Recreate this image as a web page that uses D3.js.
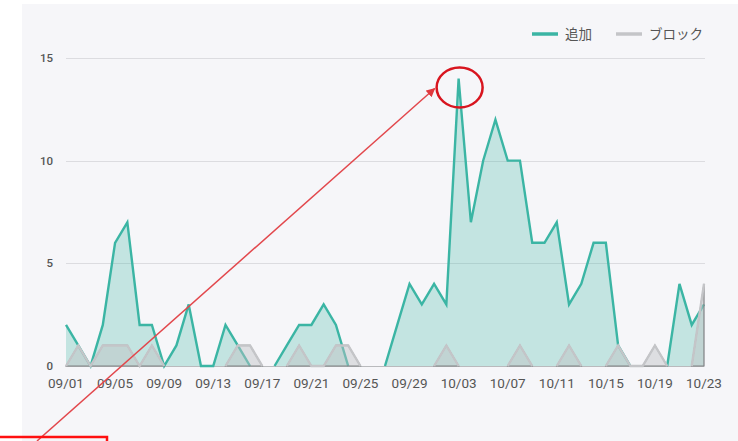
<!DOCTYPE html>
<html>
<head>
<meta charset="utf-8">
<script src="https://cdn.jsdelivr.net/npm/d3@7"></script>
<style>
	html, body { margin: 0; padding: 0; background: #ffffff; }
	svg { display: block; }
	text { font-family: Roboto, "Noto Sans CJK JP", sans-serif; }
</style>
</head>
<body>
<svg id="chart" width="738" height="441"></svg>
<script>
// data: one value per day, 09/01 .. 10/23
const startDay = new Date(2019, 8, 1);
const endDay   = new Date(2019, 9, 23);
const addValues = [
	2, 1, 0, 2, 6, 7, 2, 2, 0, 1,
	3, 0, 0, 2, 1, 0, 0, 0, 1, 2,
	2, 3, 2, 0, 0, 0, 0, 2, 4, 3,
	4, 3, 14, 7, 10, 12, 10, 10, 6, 6,
	7, 3, 4, 6, 6, 1, 0, 0, 0, 0,
	4, 2, 3
];
const blockValues = [
	0, 1, 0, 1, 1, 1, 0, 1, 0, 0,
	0, 0, 0, 0, 1, 1, 0, 0, 0, 1,
	0, 0, 1, 1, 0, 0, 0, 0, 0, 0,
	0, 1, 0, 0, 0, 0, 0, 1, 0, 0,
	0, 1, 0, 0, 0, 1, 0, 0, 1, 0,
	0, 0, 4
];
const yTicks = [0, 5, 10, 15];
const legendItems = ["追加", "ブロック"];

const days = d3.timeDay.range(startDay, d3.timeDay.offset(endDay, 1));
const xTicks = days.filter((d, i) => i % 4 === 0);

const width  = 738;
const height = 441;
const margin = { top: 58, right: 34, bottom: 75, left: 66 };

const colors = {
	add:       "#3bb5a4",
	addFill:   "rgba(59,181,164,0.27)",
	block:     "#c4c5c8",
	blockFill: "rgba(190,192,196,0.45)",
	blockBase: "#808184"
};

const svg = d3.select("#chart");

// panel background
svg.append("rect")
	.attr("x", 22).attr("y", 4)
	.attr("width", width - 22).attr("height", height - 4)
	.attr("fill", "#f6f6f9");

const x = d3.scaleTime()
	.domain([startDay, endDay])
	.range([margin.left, width - margin.right]);

const y = d3.scaleLinear()
	.domain([0, 15])
	.range([height - margin.bottom, margin.top]);

// grid lines + y labels
const grid = svg.append("g");
grid.selectAll("line")
	.data(yTicks.filter(t => t > 0))
	.join("line")
	.attr("x1", margin.left).attr("x2", width - margin.right + 1)
	.attr("y1", d => Math.round(y(d)) + 0.5).attr("y2", d => Math.round(y(d)) + 0.5)
	.attr("stroke", "#dcdce0");

grid.selectAll("text")
	.data(yTicks)
	.join("text")
	.attr("x", 53)
	.attr("y", d => y(d) + 4)
	.attr("text-anchor", "end")
	.attr("font-size", 11.5)
	.attr("font-weight", 500)
	.attr("fill", "#555")
	.text(d => d);

// baseline
svg.append("line")
	.attr("x1", margin.left).attr("x2", width - margin.right)
	.attr("y1", Math.round(y(0)) + 0.5).attr("y2", Math.round(y(0)) + 0.5)
	.attr("stroke", "#b9babd");

// segments touching a nonzero value are drawn, zero runs are left out
function nearNonZero(values) {
	return (d, i) => values[i] > 0 || values[i - 1] > 0 || values[i + 1] > 0;
}

function drawSeries(values, fill, stroke, baseStroke) {
	const defined = nearNonZero(values);
	const area = d3.area()
		.defined(defined)
		.x((d, i) => x(days[i]))
		.y0(y(0))
		.y1(d => y(d));
	const line = d3.line()
		.defined(defined)
		.x((d, i) => x(days[i]))
		.y(d => y(d));

	const g = svg.append("g");
	g.append("path")
		.attr("d", area(values))
		.attr("fill", fill)
		.attr("stroke", baseStroke || "none")
		.attr("stroke-width", 1.2);
	g.append("path")
		.attr("d", line(values))
		.attr("fill", "none")
		.attr("stroke", stroke)
		.attr("stroke-width", 2.4)
		.attr("stroke-linejoin", "miter");
}

drawSeries(addValues, colors.addFill, colors.add);
drawSeries(blockValues, colors.blockFill, colors.block, colors.blockBase);

// x labels
svg.append("g").selectAll("text")
	.data(xTicks)
	.join("text")
	.attr("x", d => x(d))
	.attr("y", y(0) + 22)
	.attr("text-anchor", "middle")
	.attr("font-size", 13.5)
	.attr("fill", "#555")
	.text(d3.timeFormat("%m/%d"));

// legend
const legend = svg.append("g");
const legendX = [532, 616];
const legendColors = [colors.add, colors.block];
legendItems.forEach((name, i) => {
	legend.append("line")
		.attr("x1", legendX[i]).attr("x2", legendX[i] + 26)
		.attr("y1", 34).attr("y2", 34)
		.attr("stroke", legendColors[i])
		.attr("stroke-width", 3.5);
	legend.append("text")
		.attr("x", legendX[i] + 33)
		.attr("y", 38.5)
		.attr("font-size", 13.5)
		.attr("font-family", "'Noto Sans CJK JP', sans-serif")
		.attr("fill", "#555")
		.text(name);
});

// annotation: arrow to peak, circle, box
const peakIdx = addValues.indexOf(d3.max(addValues));
const px = x(days[peakIdx]);
const py = y(addValues[peakIdx]) + 9;

const defs = svg.append("defs");
defs.append("marker")
	.attr("id", "arrowHead")
	.attr("viewBox", "0 0 10 10")
	.attr("refX", 9).attr("refY", 5)
	.attr("markerWidth", 9).attr("markerHeight", 9)
	.attr("markerUnits", "userSpaceOnUse")
	.attr("orient", "auto")
	.append("path")
	.attr("d", "M0,0 L10,5 L0,10 z")
	.attr("fill", "#e0393e");

svg.append("line")
	.attr("x1", 37).attr("y1", 441)
	.attr("x2", px - 24).attr("y2", py + 1)
	.attr("stroke", "#e2474c")
	.attr("stroke-width", 1.5)
	.attr("marker-end", "url(#arrowHead)");

svg.append("ellipse")
	.attr("cx", px + 1).attr("cy", py)
	.attr("rx", 23).attr("ry", 20)
	.attr("fill", "none")
	.attr("stroke", "#d8151f")
	.attr("stroke-width", 2.5);

svg.append("rect")
	.attr("x", -5).attr("y", 437)
	.attr("width", 112).attr("height", 20)
	.attr("fill", "none")
	.attr("stroke", "#ff1010")
	.attr("stroke-width", 2.5);
</script>
</body>
</html>
